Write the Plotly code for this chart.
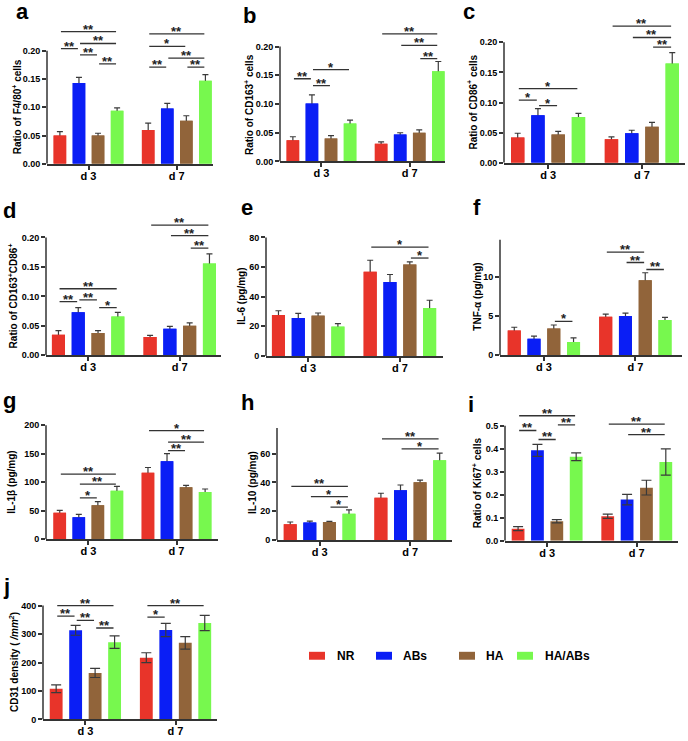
import plotly.graph_objects as go

W, H = 688, 741
FONT = "Liberation Sans, Arial, sans-serif"
AXC = "#333333"
ERRC = "#3a3a3a"

GROUPS = ["d 3", "d 7"]
SERIES = ["NR", "ABs", "HA", "HA/ABs"]
COLORS = ["#E8342A", "#0A1EF5", "#91643A", "#77F84E"]

# rows = series (NR, ABs, HA, HA/ABs), columns = groups (d 3, d 7)
A_MEAN = [[0.050, 0.060], [0.143, 0.098], [0.050, 0.076], [0.094, 0.147]]
A_ERR = [[0.007, 0.012], [0.010, 0.009], [0.004, 0.009], [0.005, 0.011]]
A_SIG = [(0, 0, 3, 0.234, "**"), (0, 1, 3, 0.213, "**"), (0, 0, 1, 0.204, "**"), (0, 1, 2, 0.193, "**"),
         (0, 2, 3, 0.177, "**"), (1, 0, 3, 0.230, "**"), (1, 0, 2, 0.208, "*"), (1, 1, 3, 0.187, "**"),
         (1, 0, 1, 0.171, "**"), (1, 2, 3, 0.171, "**")]

B_MEAN = [[0.037, 0.031], [0.101, 0.047], [0.040, 0.050], [0.066, 0.157]]
B_ERR = [[0.006, 0.003], [0.015, 0.003], [0.005, 0.005], [0.006, 0.017]]
B_SIG = [(0, 0, 1, 0.144, "**"), (0, 1, 3, 0.160, "*"), (0, 1, 2, 0.132, "**"),
         (1, 0, 3, 0.222, "**"), (1, 1, 3, 0.202, "**"), (1, 2, 3, 0.179, "**")]

C_MEAN = [[0.042, 0.039], [0.079, 0.049], [0.047, 0.060], [0.076, 0.165]]
C_ERR = [[0.007, 0.004], [0.011, 0.005], [0.005, 0.007], [0.006, 0.018]]
C_SIG = [(0, 0, 3, 0.123, "*"), (0, 0, 1, 0.104, "*"), (0, 1, 2, 0.095, "*"),
         (1, 0, 3, 0.227, "**"), (1, 1, 3, 0.208, "**"), (1, 2, 3, 0.192, "**")]

D_MEAN = [[0.035, 0.031], [0.073, 0.045], [0.038, 0.050], [0.066, 0.156]]
D_ERR = [[0.007, 0.003], [0.008, 0.004], [0.004, 0.005], [0.007, 0.016]]
D_SIG = [(0, 0, 3, 0.113, "**"), (0, 0, 1, 0.091, "**"), (0, 1, 2, 0.094, "**"), (0, 2, 3, 0.081, "*"),
         (1, 0, 3, 0.221, "**"), (1, 1, 3, 0.203, "**"), (1, 2, 3, 0.182, "**")]

E_MEAN = [[27.6, 56.8], [25.6, 49.9], [27.2, 61.7], [19.8, 32.3]]
E_ERR = [[2.9, 7.8], [3.1, 5.1], [1.8, 1.8], [2.0, 5.3]]
E_SIG = [(1, 0, 3, 73.5, "*"), (1, 2, 3, 66.1, "*")]

F_MEAN = [[3.17, 4.94], [2.11, 5.03], [3.42, 9.59], [1.69, 4.52]]
F_ERR = [[0.42, 0.34], [0.34, 0.38], [0.46, 0.97], [0.55, 0.34]]
F_SIG = [(0, 2, 3, 4.35, "*"), (1, 0, 2, 13.2, "**"), (1, 1, 2, 11.87, "**"), (1, 2, 3, 10.98, "**")]

G_MEAN = [[46.4, 116.5], [38.3, 136.8], [59.7, 91.0], [85.2, 82.9]]
G_ERR = [[4.0, 9.3], [5.2, 13.3], [6.4, 3.5], [7.5, 5.2]]
G_SIG = [(0, 0, 3, 114.2, "**"), (0, 1, 3, 96.8, "**"), (0, 1, 2, 72.5, "*"),
         (1, 0, 3, 190.7, "*"), (1, 1, 3, 170.4, "**"), (1, 1, 2, 155.4, "**")]

H_MEAN = [[11.0, 29.3], [12.3, 34.5], [12.6, 40.2], [18.3, 55.3]]
H_ERR = [[1.6, 3.2], [0.9, 3.7], [0.4, 1.4], [2.7, 5.0]]
H_SIG = [(0, 0, 3, 37.3, "**"), (0, 1, 3, 30.2, "*"), (0, 2, 3, 22.9, "*"),
         (1, 0, 3, 70.2, "**"), (1, 1, 3, 63.3, "*")]

I_MEAN = [[0.053, 0.107], [0.393, 0.179], [0.085, 0.231], [0.365, 0.342]]
I_ERR = [[0.009, 0.009], [0.026, 0.023], [0.007, 0.032], [0.017, 0.057]]
I_SIG = [(0, 0, 3, 0.543, "**"), (0, 0, 1, 0.479, "**"), (0, 1, 2, 0.440, "**"), (0, 2, 3, 0.503, "**"),
         (1, 0, 3, 0.507, "**"), (1, 1, 3, 0.461, "**")]

J_MEAN = [[107.8, 216.8], [313.0, 314.2], [163.5, 269.0], [271.3, 338.6]]
J_ERR = [[13.9, 17.4], [17.4, 23.2], [16.2, 22.0], [22.0, 26.7]]
J_SIG = [(0, 0, 3, 400, "**"), (0, 0, 1, 362.9, "**"), (0, 1, 2, 347.8, "**"), (0, 2, 3, 321.2, "**"),
         (1, 0, 3, 400, "**"), (1, 0, 1, 359.4, "*")]

TICKS_RATIO = [0, 0.05, 0.10, 0.15, 0.20]
TICKS_IL6 = [0, 20, 40, 60, 80]
TICKS_TNF = [0, 5, 10, 15]
TICKS_IL1B = [0, 50, 100, 150, 200]
TICKS_IL10 = [0, 20, 40, 60, 80]
TICKS_KI67 = [0, 0.1, 0.2, 0.3, 0.4, 0.5]
TICKS_CD31 = [0, 100, 200, 300, 400]

TITLES = ["Ratio of F4/80<sup>+</sup> cells", "Ratio of CD163<sup>+</sup> cells",
          "Ratio of CD86<sup>+</sup> cells", "Ratio of CD163<sup>+</sup>CD86<sup>+</sup>",
          "IL-6 (pg/mg)", "TNF-α (pg/mg)", "IL-1β (pg/mg)", "IL-10 (pg/mg)",
          "Ratio of Ki67<sup>+</sup> cells", "CD31 density ( <i>/mm<sup>2</sup></i>)"]
LETTERS = ["a", "b", "c", "d", "e", "f", "g", "h", "i", "j"]

# layout (pixel geometry of each panel)
PANELS = [
    dict(mean=A_MEAN, err=A_ERR, sig=A_SIG, ticks=TICKS_RATIO, fmt=".2f", upper=True,
         xl=47, xr=213, y0=163.3, yt=49.3, top=18, xrng=(-0.47, 1.41), tx=17, lx=14, lb=19),
    dict(mean=B_MEAN, err=B_ERR, sig=B_SIG, ticks=TICKS_RATIO, fmt=".2f", upper=True,
         xl=280, xr=445, y0=161, yt=45, top=20, xrng=(-0.47, 1.40), tx=249, lx=241, lb=23),
    dict(mean=C_MEAN, err=C_ERR, sig=C_SIG, ticks=TICKS_RATIO, fmt=".2f", upper=True,
         xl=504, xr=685, y0=162.3, yt=40.7, top=12, xrng=(-0.47, 1.46), tx=472, lx=461, lb=19),
    dict(mean=D_MEAN, err=D_ERR, sig=D_SIG, ticks=TICKS_RATIO, fmt=".2f", upper=True,
         xl=46, xr=221, y0=356.7, yt=237.7, top=213, xrng=(-0.46, 1.45), tx=13, lx=1, lb=220),
    dict(mean=E_MEAN, err=E_ERR, sig=E_SIG, ticks=TICKS_IL6, fmt="", upper=True,
         xl=266, xr=443, y0=357.3, yt=237.7, top=235, xrng=(-0.46, 1.47), tx=242, lx=239, lb=217),
    dict(mean=F_MEAN, err=F_ERR, sig=F_SIG, ticks=TICKS_TNF, fmt="", upper=True,
         xl=500, xr=682, y0=356.7, yt=238.3, top=240, xrng=(-0.48, 1.51), tx=478, lx=471, lb=217),
    dict(mean=G_MEAN, err=G_ERR, sig=G_SIG, ticks=TICKS_IL1B, fmt="", upper=True,
         xl=46, xr=218, y0=542.3, yt=427.3, top=421, xrng=(-0.48, 1.47), tx=11.5, lx=1, lb=411),
    dict(mean=H_MEAN, err=H_ERR, sig=H_SIG, ticks=TICKS_IL10, fmt="", upper=True,
         xl=277, xr=452, y0=543.3, yt=426.7, top=430, xrng=(-0.47, 1.46), tx=252.5, lx=239, lb=413),
    dict(mean=I_MEAN, err=I_ERR, sig=I_SIG, ticks=TICKS_KI67, fmt=".1f", upper=False,
         xl=505, xr=678, y0=544, yt=427.7, top=406, xrng=(-0.47, 1.46), tx=477, lx=466, lb=415),
    dict(mean=J_MEAN, err=J_ERR, sig=J_SIG, ticks=TICKS_CD31, fmt="", upper=False,
         xl=43, xr=217, y0=724.3, yt=609.3, top=598, xrng=(-0.47, 1.46), tx=13.5, lx=1, lb=599),
]

BARGAP = 0.136
BARGROUPGAP = 0.34
SLOT = (1 - BARGAP) / len(SERIES)
INSET = 0.012  # small gap at bracket ends

fig = go.Figure()
shapes, annots = [], []
layout = {}

for n, p in enumerate(PANELS, start=1):
    sfx = "" if n == 1 else str(n)
    xa, ya = "x" + sfx, "y" + sfx
    tickmax = p["ticks"][-1]
    pxu = (p["y0"] - p["yt"]) / tickmax
    rmax = (p["y0"] - p["top"]) / pxu
    capw = 3 if p["upper"] else 5
    for k in range(len(SERIES)):
        fig.add_trace(go.Bar(
            x=GROUPS, y=p["mean"][k], xaxis=xa, yaxis=ya, name=SERIES[k],
            marker=dict(color=COLORS[k], line=dict(width=0)), offsetgroup=str(k),
            error_y=dict(type="data", array=p["err"][k], symmetric=True, color=ERRC,
                         thickness=1.2, width=capw),
            showlegend=False, hoverinfo="skip"))
    if p["upper"]:
        for k in range(len(SERIES)):
            fig.add_trace(go.Bar(
                x=GROUPS, y=p["mean"][k], xaxis=xa, yaxis=ya, name=SERIES[k],
                marker=dict(color=COLORS[k], line=dict(width=0)), offsetgroup=str(k),
                showlegend=False, hoverinfo="skip"))

    layout["xaxis" + sfx] = dict(
        domain=[p["xl"] / W, p["xr"] / W], anchor=ya, type="category", range=list(p["xrng"]),
        showline=True, linecolor=AXC, linewidth=1.5, ticks="outside", ticklen=4, tickwidth=1.5,
        tickcolor=AXC, ticklabelstandoff=-3,
        tickfont=dict(family=FONT, size=11, color="black", weight="bold"),
        showgrid=False, zeroline=False, fixedrange=True)
    layout["yaxis" + sfx] = dict(
        domain=[1 - p["y0"] / H, 1 - p["top"] / H], anchor=xa, range=[0, rmax],
        showline=False, tickmode="array", tickvals=p["ticks"], tickformat=p["fmt"],
        ticks="outside", ticklen=4, tickwidth=1.5, tickcolor=AXC,
        tickfont=dict(family=FONT, size=9, color="black", weight="bold"),
        showgrid=False, zeroline=False, fixedrange=True)

    # y axis line only up to the top tick
    shapes.append(dict(type="line", xref="paper", yref=ya, x0=p["xl"] / W, x1=p["xl"] / W,
                       y0=0, y1=tickmax, line=dict(color=AXC, width=1.5)))

    # significance brackets
    for g, i, j, h, lab in p["sig"]:
        xi = g + (i - 1.5) * SLOT + INSET
        xj = g + (j - 1.5) * SLOT - INSET
        shapes.append(dict(type="line", xref=xa, yref=ya, x0=xi, x1=xj, y0=h, y1=h,
                           line=dict(color=AXC, width=1.3)))
        annots.append(dict(xref=xa, yref=ya, x=(xi + xj) / 2, y=h, text="<b>" + lab + "</b>",
                           showarrow=False, yanchor="bottom", yshift=-6, borderpad=0,
                           font=dict(family=FONT, size=13, color="#222")))

    # y-axis title
    annots.append(dict(xref="paper", yref=ya, x=p["tx"] / W, y=tickmax / 2,
                       text="<b>" + TITLES[n - 1] + "</b>", textangle=-90, showarrow=False,
                       xanchor="center", yanchor="middle",
                       font=dict(family=FONT, size=10, color="black")))
    # panel letter
    annots.append(dict(xref="paper", yref="paper", x=p["lx"] / W, y=1 - (p["lb"] + 5.5) / H,
                       text="<b>" + LETTERS[n - 1] + "</b>", showarrow=False,
                       xanchor="left", yanchor="bottom",
                       font=dict(family=FONT, size=22, color="black")))

# legend
LEG_SW = [309, 376, 459, 517]
LEG_TX = [335, 401, 484, 543]
for k in range(len(SERIES)):
    shapes.append(dict(type="rect", xref="paper", yref="paper",
                       x0=LEG_SW[k] / W, x1=(LEG_SW[k] + 16) / W,
                       y0=1 - 664 / H, y1=1 - 656 / H,
                       fillcolor=COLORS[k], line=dict(width=0)))
    annots.append(dict(xref="paper", yref="paper", x=LEG_TX[k] / W, y=1 - 660 / H,
                       text="<b>" + SERIES[k] + "</b>", showarrow=False,
                       xanchor="left", yanchor="middle",
                       font=dict(family=FONT, size=12, color="black")))

fig.update_layout(
    width=W, height=H, autosize=False, margin=dict(l=0, r=0, t=0, b=0),
    paper_bgcolor="white", plot_bgcolor="white",
    barmode="group", bargap=BARGAP, bargroupgap=BARGROUPGAP,
    showlegend=False, shapes=shapes, annotations=annots,
    font=dict(family=FONT), **layout)

fig.write_html("out.html", config={"displayModeBar": False},
               post_script="document.body.style.margin='0';")
